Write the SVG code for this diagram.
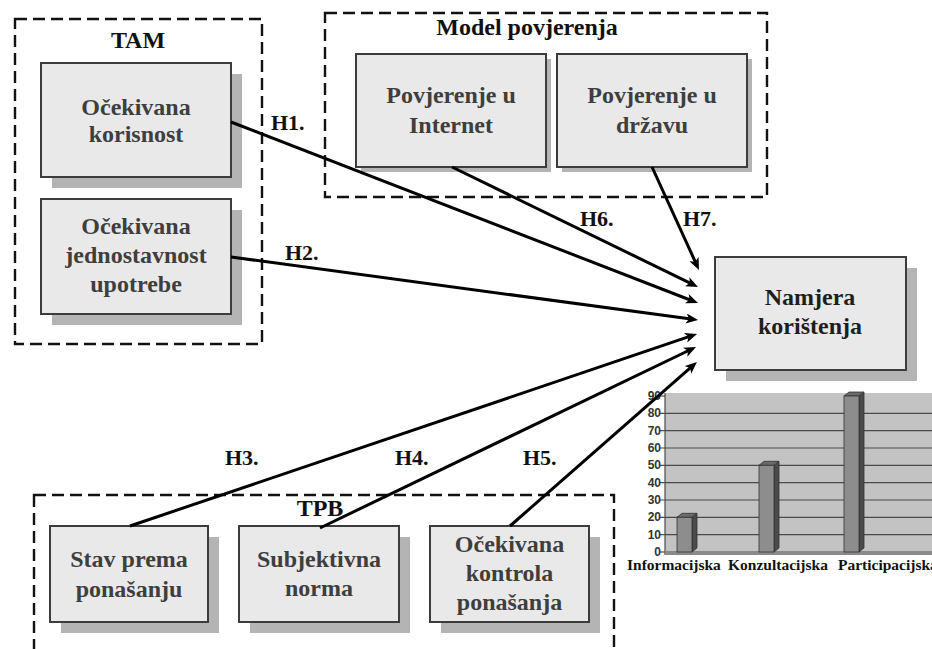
<svg xmlns="http://www.w3.org/2000/svg" width="932" height="649" viewBox="0 0 932 649">
<style>
.grp{fill:none;stroke:#111;stroke-width:2.4;stroke-dasharray:12 6}
.glbl{font-size:24px;fill:#111;text-anchor:middle}
.shadow{fill:#b4b4b4}
.box{fill:#e9e9e9;stroke:#3c3c3c;stroke-width:2}
.ntxt{font-size:24px;fill:#3e3e3e;text-anchor:middle}
.dark{fill:#1e1e1e}
.conn{fill:none;stroke:#000;stroke-width:3}
.hl{font-size:22px;fill:#111}
.ax{font-size:12px;fill:#333;text-anchor:end}
.cat{font-size:15.5px;fill:#111}
.grid{stroke:#4a4a4a;stroke-width:1.2}
</style>
<defs>
<marker id="arr" markerUnits="userSpaceOnUse" markerWidth="14" markerHeight="12" refX="5" refY="5" orient="auto">
<path d="M0,0 L12,5 L0,10 L3,5 Z" fill="#000"/>
</marker>
</defs>
<rect width="932" height="649" fill="#fff"/>

<g font-family="'Liberation Serif', 'Times New Roman', 'DejaVu Serif', serif" font-weight="bold">
<!-- group frames -->
<g id="group-TAM">
<rect class="grp" x="15" y="19" width="247" height="325"/>
<text class="glbl" x="138" y="48">TAM</text>
</g>
<g id="group-model">
<rect class="grp" x="325" y="13" width="442" height="184"/>
<text class="glbl" x="527" y="35">Model povjerenja</text>
</g>
<g id="group-TPB">
<rect class="grp" x="34" y="495" width="580" height="200"/>
<text class="glbl" x="320" y="516">TPB</text>
</g>

<!-- nodes -->
<g id="node-korisnost">
<rect class="shadow" x="52" y="74" width="190" height="114"/>
<rect class="box" x="41" y="63" width="190" height="114"/>
<text class="ntxt" x="136" y="115">Očekivana</text>
<text class="ntxt" x="136" y="142">korisnost</text>
</g>
<g id="node-jednostavnost">
<rect class="shadow" x="52" y="210" width="190" height="115"/>
<rect class="box" x="41" y="199" width="190" height="115"/>
<text class="ntxt" x="136" y="234">Očekivana</text>
<text class="ntxt" x="136" y="263">jednostavnost</text>
<text class="ntxt" x="136" y="292">upotrebe</text>
</g>
<g id="node-internet">
<rect class="shadow" x="361" y="59" width="190" height="113"/>
<rect class="box" x="356" y="54" width="190" height="113"/>
<text class="ntxt" x="451" y="103">Povjerenje u</text>
<text class="ntxt" x="451" y="133">Internet</text>
</g>
<g id="node-drzava">
<rect class="shadow" x="562" y="59" width="190" height="113"/>
<rect class="box" x="557" y="54" width="190" height="113"/>
<text class="ntxt" x="652" y="103">Povjerenje u</text>
<text class="ntxt" x="652" y="133">državu</text>
</g>
<g id="node-namjera">
<rect class="shadow" x="726" y="268" width="191" height="113"/>
<rect class="box" x="715" y="257" width="191" height="113"/>
<text class="ntxt dark" x="810" y="305">Namjera</text>
<text class="ntxt dark" x="810" y="334">korištenja</text>
</g>
<g id="node-stav">
<rect class="shadow" x="61" y="537" width="158" height="96"/>
<rect class="box" x="50" y="526" width="158" height="96"/>
<text class="ntxt" x="129" y="567">Stav prema</text>
<text class="ntxt" x="129" y="597">ponašanju</text>
</g>
<g id="node-norma">
<rect class="shadow" x="250" y="537" width="160" height="96"/>
<rect class="box" x="239" y="526" width="160" height="96"/>
<text class="ntxt" x="319" y="567">Subjektivna</text>
<text class="ntxt" x="319" y="596">norma</text>
</g>
<g id="node-kontrola">
<rect class="shadow" x="441" y="537" width="159" height="96"/>
<rect class="box" x="430" y="526" width="159" height="96"/>
<text class="ntxt" x="509.5" y="552">Očekivana</text>
<text class="ntxt" x="509.5" y="581">kontrola</text>
<text class="ntxt" x="509.5" y="610">ponašanja</text>
</g>

<!-- chart -->
<g id="chart">
<rect x="665" y="393" width="267" height="160" fill="#c3c3c3"/>
<g class="grid">
<line x1="660" y1="552" x2="665" y2="552"/>
<line x1="660" y1="534.7" x2="932" y2="534.7"/>
<line x1="660" y1="517.3" x2="932" y2="517.3"/>
<line x1="660" y1="500" x2="932" y2="500"/>
<line x1="660" y1="482.7" x2="932" y2="482.7"/>
<line x1="660" y1="465.3" x2="932" y2="465.3"/>
<line x1="660" y1="448" x2="932" y2="448"/>
<line x1="660" y1="430.7" x2="932" y2="430.7"/>
<line x1="660" y1="413.3" x2="932" y2="413.3"/>
<line x1="660" y1="396" x2="665" y2="396"/>
<line x1="665" y1="393" x2="665" y2="555"/>
</g>
<rect x="665" y="551" width="267" height="4" fill="#8a8a8a"/>
<g font-family="'Liberation Sans', Arial, sans-serif">
<text class="ax" x="661" y="556">0</text>
<text class="ax" x="661" y="538.7">10</text>
<text class="ax" x="661" y="521.3">20</text>
<text class="ax" x="661" y="504">30</text>
<text class="ax" x="661" y="486.7">40</text>
<text class="ax" x="661" y="469.3">50</text>
<text class="ax" x="661" y="452">60</text>
<text class="ax" x="661" y="434.7">70</text>
<text class="ax" x="661" y="417.3">80</text>
<text class="ax" x="661" y="400">90</text>
</g>
<g stroke="#333" stroke-width="0.8">
<polygon points="692,517.3 697,513.3 697,548 692,552" fill="#4a4a4a"/>
<polygon points="677,517.3 682,513.3 697,513.3 692,517.3" fill="#6a6a6a"/>
<rect x="677" y="517.3" width="15" height="34.7" fill="#8d8d8d"/>
<polygon points="774,465.3 779,461.3 779,548 774,552" fill="#4a4a4a"/>
<polygon points="759,465.3 764,461.3 779,461.3 774,465.3" fill="#6a6a6a"/>
<rect x="759" y="465.3" width="15" height="86.7" fill="#8d8d8d"/>
<polygon points="859,396 864,392 864,548 859,552" fill="#4a4a4a"/>
<polygon points="844,396 849,392 864,392 859,396" fill="#6a6a6a"/>
<rect x="844" y="396" width="15" height="156" fill="#8d8d8d"/>
</g>
<text class="cat" x="627" y="570">Informacijska</text>
<text class="cat" x="728" y="570">Konzultacijska</text>
<text class="cat" x="838" y="570">Participacijska</text>
</g>

<!-- connectors -->
<g id="connectors">
<line class="conn" x1="652" y1="167" x2="696.1" y2="263.6" marker-end="url(#arr)"/>
<line class="conn" x1="452" y1="167" x2="691.7" y2="283.9" marker-end="url(#arr)"/>
<line class="conn" x1="231" y1="122" x2="691.5" y2="300.5" marker-end="url(#arr)"/>
<line class="conn" x1="231" y1="257" x2="691.1" y2="319.1" marker-end="url(#arr)"/>
<line class="conn" x1="130" y1="526" x2="690.4" y2="336.2" marker-end="url(#arr)"/>
<line class="conn" x1="320" y1="528" x2="689.7" y2="350" marker-end="url(#arr)"/>
<line class="conn" x1="510" y1="526" x2="691.7" y2="366.6" marker-end="url(#arr)"/>
<text class="hl" x="271" y="130">H1.</text>
<text class="hl" x="285" y="260">H2.</text>
<text class="hl" x="225" y="465">H3.</text>
<text class="hl" x="395" y="465">H4.</text>
<text class="hl" x="523" y="465">H5.</text>
<text class="hl" x="580" y="226">H6.</text>
<text class="hl" x="683" y="226">H7.</text>
</g>
</g>
</svg>
